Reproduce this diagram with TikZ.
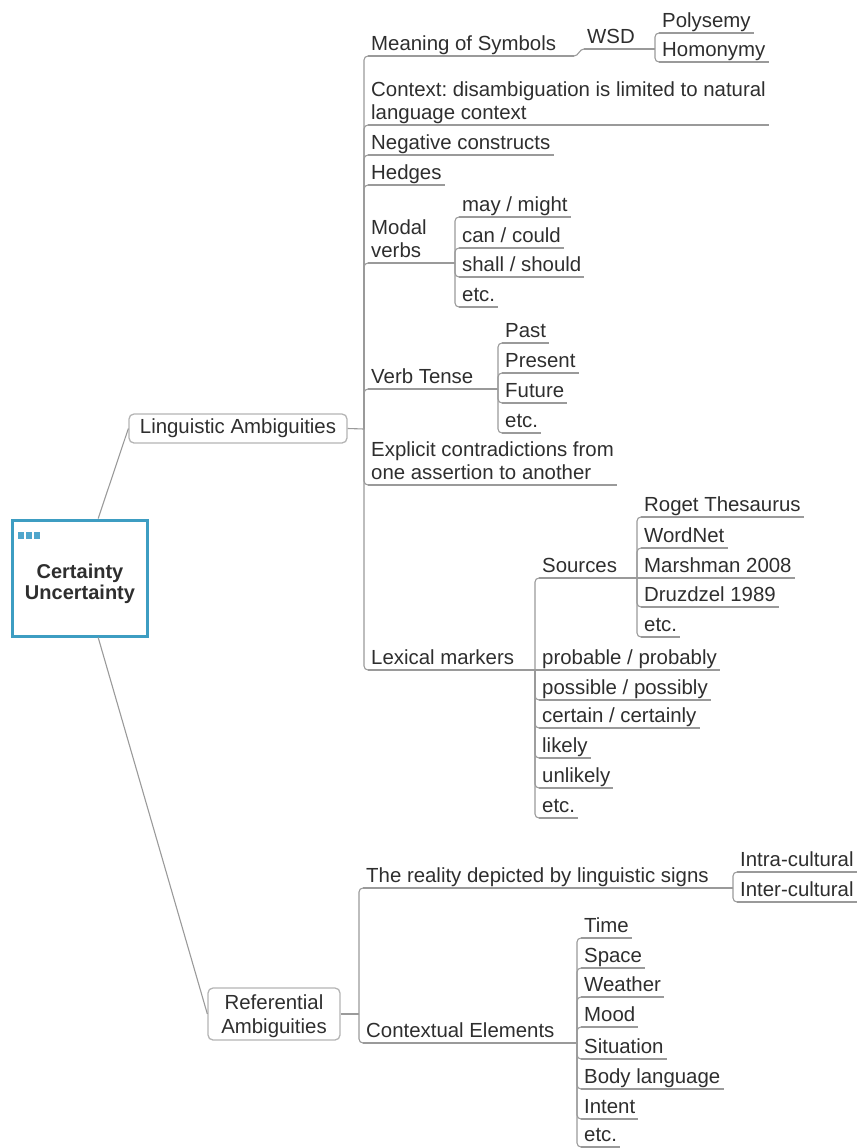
\documentclass[tikz,border=0pt]{standalone}
\usepackage{fontspec}
\setmainfont{Liberation Sans}
\frenchspacing
\definecolor{lineg}{HTML}{9A9A9A}
\definecolor{boxg}{HTML}{B4B4B4}
\definecolor{txt}{HTML}{2E2E2E}
\definecolor{tealb}{HTML}{3D9DC2}
\definecolor{teals}{HTML}{4FA6CC}
\newcommand\topicfont{\fontsize{20.4}{23}\selectfont}
\newcommand\rootfont{\fontsize{20}{21}\selectfont\bfseries}
\newcommand\mystrut{\rule[-4.5pt]{0pt}{18pt}}
\begin{document}
\begin{tikzpicture}[x=1pt,y=-1pt,
  line/.style={draw=lineg, line width=1.1pt},
  conn/.style={line, rounded corners=4pt},
  topic/.style={anchor=south west, inner xsep=3pt, inner ysep=0.5pt, align=left, font=\topicfont, text=txt},
  mainbox/.style={draw=boxg, line width=1.3pt, rounded corners=5pt, font=\topicfont, text=txt, align=center, inner sep=0pt},
  rootbox/.style={draw=tealb, line width=3pt, fill=white, font=\rootfont, text=txt, align=center, inner sep=0pt, minimum width=135pt, minimum height=116pt}]
\useasboundingbox (0,0) rectangle (857,1148);

% ---------- root ----------
\node[rootbox] (root) at (80,578) {\rule{0pt}{26pt}Certainty\\Uncertainty};
\fill[teals] (18,532) rectangle (24,539);
\fill[teals] (26,532) rectangle (32,539);
\fill[teals] (34,532) rectangle (40,539);

% ---------- main branches ----------
\node[mainbox, minimum width=218pt, minimum height=29pt] (LA) at (238,428.5) {Linguistic Ambiguities};
\node[mainbox, minimum width=132pt, minimum height=52pt] (RA) at (274,1014) {\rule{0pt}{19pt}Referential\\[1pt]Ambiguities};

\draw[line] (root.73) -- (LA.west);
\draw[line] (root.-73) -- (RA.west);

% ---------- Linguistic Ambiguities children ----------
\coordinate (jLA) at (364,429);
\node[topic] (ms)  at (368,56)  {\mystrut Meaning of Symbols};
\node[topic] (ctx) at (368,125) {\mystrut Context: disambiguation is limited to natural\\\mystrut language context};
\node[topic] (neg) at (368,155) {\mystrut Negative constructs};
\node[topic] (hed) at (368,185) {\mystrut Hedges};
\node[topic] (mv)  at (368,263) {\mystrut Modal\\\mystrut verbs};
\node[topic] (vt)  at (368,389) {\mystrut Verb Tense};
\node[topic] (ec)  at (368,485) {\mystrut Explicit contradictions from\\\mystrut one assertion to another};
\node[topic] (lm)  at (368,670) {\mystrut Lexical markers};

\draw[line] (LA.east) -- (jLA);
\foreach \n in {ms,ctx,neg,hed,mv,vt,ec,lm}{\draw[conn] (jLA) |- (\n.south west);}

% Meaning of Symbols -> WSD
\coordinate (jMS) at (574,56);
\node[topic] (wsd) at (584,49) {\mystrut WSD};
\coordinate (jW) at (655,49);
\node[topic] (poly) at (659,33) {\mystrut Polysemy};
\node[topic] (homo) at (659,62) {\mystrut Homonymy};
\draw[line] (ms.south east) -- (jMS);
\draw[line] (jMS) to[out=0,in=180] (wsd.south west);
\draw[line] (wsd.south east) -- (jW);
\draw[conn] (jW) |- (poly.south west);
\draw[conn] (jW) |- (homo.south west);

% Modal verbs
\coordinate (jMV) at (455,263);
\node[topic] (may)   at (459,217) {\mystrut may / might};
\node[topic] (can)   at (459,248) {\mystrut can / could};
\node[topic] (shall) at (459,277) {\mystrut shall / should};
\node[topic] (mvetc) at (459,307) {\mystrut etc.};
\draw[line] (mv.south east) -- (jMV);
\foreach \n in {may,can,shall,mvetc}{\draw[conn] (jMV) |- (\n.south west);}

% Verb Tense
\coordinate (jVT) at (498,389);
\node[topic] (past)  at (502,343) {\mystrut Past};
\node[topic] (pres)  at (502,373) {\mystrut Present};
\node[topic] (fut)   at (502,403) {\mystrut Future};
\node[topic] (vtetc) at (502,433) {\mystrut etc.};
\draw[line] (vt.south east) -- (jVT);
\foreach \n in {past,pres,fut,vtetc}{\draw[conn] (jVT) |- (\n.south west);}

% Lexical markers
\coordinate (jLM) at (535,670);
\node[topic] (src)   at (539,578) {\mystrut Sources};
\node[topic] (prob)  at (539,670) {\mystrut probable / probably};
\node[topic] (poss)  at (539,700) {\mystrut possible / possibly};
\node[topic] (cert)  at (539,728) {\mystrut certain / certainly};
\node[topic] (like)  at (539,758) {\mystrut likely};
\node[topic] (unl)   at (539,788) {\mystrut unlikely};
\node[topic] (lmetc) at (539,818) {\mystrut etc.};
\draw[line] (lm.south east) -- (jLM);
\draw[line] (jLM) -- (prob.south west);
\foreach \n in {src,poss,cert,like,unl,lmetc}{\draw[conn] (jLM) |- (\n.south west);}

% Sources
\coordinate (jSrc) at (637,578);
\node[topic] (roget) at (641,517) {\mystrut Roget Thesaurus};
\node[topic] (wn)    at (641,548) {\mystrut WordNet};
\node[topic] (mar)   at (641,578) {\mystrut Marshman 2008};
\node[topic] (dru)   at (641,607) {\mystrut Druzdzel 1989};
\node[topic] (setc)  at (641,637) {\mystrut etc.};
\draw[line] (src.south east) -- (jSrc);
\draw[line] (jSrc) -- (mar.south west);
\foreach \n in {roget,wn,dru,setc}{\draw[conn] (jSrc) |- (\n.south west);}

% ---------- Referential Ambiguities children ----------
\coordinate (jRA) at (359,1014);
\node[topic] (real) at (363,888)  {\mystrut The reality depicted by linguistic signs};
\node[topic] (ce)   at (363,1043) {\mystrut Contextual Elements};
\draw[line] (RA.east) -- (jRA);
\foreach \n in {real,ce}{\draw[conn] (jRA) |- (\n.south west);}

\coordinate (jR) at (733,888);
\node[topic] (intra) at (737,872) {\mystrut Intra-cultural};
\node[topic] (inter) at (737,902) {\mystrut Inter-cultural};
\draw[line] (real.south east) -- (jR);
\foreach \n in {intra,inter}{\draw[conn] (jR) |- (\n.south west);}

\coordinate (jCE) at (577,1043);
\node[topic] (time)  at (581,938)  {\mystrut Time};
\node[topic] (space) at (581,968)  {\mystrut Space};
\node[topic] (weat)  at (581,997)  {\mystrut Weather};
\node[topic] (mood)  at (581,1027) {\mystrut Mood};
\node[topic] (sit)   at (581,1059) {\mystrut Situation};
\node[topic] (body)  at (581,1089) {\mystrut Body language};
\node[topic] (int)   at (581,1119) {\mystrut Intent};
\node[topic] (ceetc) at (581,1147) {\mystrut etc.};
\draw[line] (ce.south east) -- (jCE);
\foreach \n in {time,space,weat,mood,sit,body,int,ceetc}{\draw[conn] (jCE) |- (\n.south west);}

% ---------- underlines ----------
\foreach \n in {ms,ctx,neg,hed,mv,vt,ec,lm,wsd,poly,homo,may,can,shall,mvetc,past,pres,fut,vtetc,
  src,prob,poss,cert,like,unl,lmetc,roget,wn,mar,dru,setc,real,ce,intra,inter,
  time,space,weat,mood,sit,body,int,ceetc}{\draw[line] (\n.south west) -- (\n.south east);}
\end{tikzpicture}
\end{document}
